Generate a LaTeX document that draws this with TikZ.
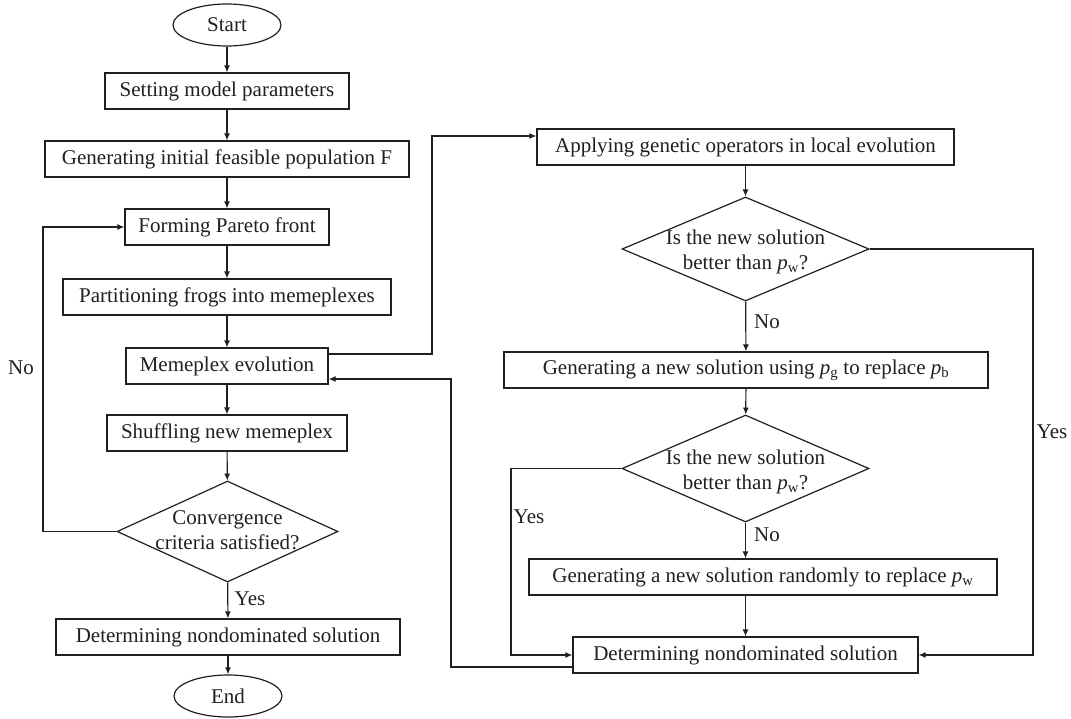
\documentclass[tikz,border=0pt]{standalone}
\usepackage{fontspec}
\setmainfont{Liberation Serif}
\usetikzlibrary{shapes.geometric,arrows.meta}
\definecolor{ink}{HTML}{231F20}
\begin{document}
\begin{tikzpicture}[x=1pt,y=-1pt,
  every node/.style={font=\fontsize{21}{25}\selectfont, text=ink},
  stepbox/.style={draw=ink, line width=1.2pt, rectangle, minimum height=36pt, inner sep=0pt},
  term/.style={draw=ink, line width=1.2pt, ellipse, minimum width=108pt, minimum height=42pt, inner sep=0pt},
  decision/.style={draw=ink, line width=1.2pt, diamond, inner sep=0pt},
  dtext/.style={align=center, inner sep=0pt},
  lbl/.style={inner sep=0pt},
  arr/.style={draw=ink, line width=1.2pt, -{Latex[length=7pt,width=6pt]}},
  ln/.style={draw=ink, line width=1.2pt}]
\useasboundingbox (0,0) rectangle (1071,718);
\fill[white] (0,0) rectangle (1071,718);
% left column
\node[term] (start) at (227,25) {Start};
\node[stepbox, minimum width=244pt] (set) at (227,91) {Setting model parameters};
\node[stepbox, minimum width=364pt] (gen) at (227,159) {Generating initial feasible population F};
\node[stepbox, minimum width=204pt] (form) at (227,227) {Forming Pareto front};
\node[stepbox, minimum width=328pt] (part) at (227,297) {Partitioning frogs into memeplexes};
\node[stepbox, minimum width=202pt] (mem) at (227,366) {Memeplex evolution};
\node[stepbox, minimum width=240pt] (shuf) at (227,433) {Shuffling new memeplex};
\node[decision, minimum width=221pt, minimum height=101pt] (conv) at (227.5,531.5) {};
\node[dtext] (convt) at (227.5,530) {Convergence\\criteria satisfied?};
\node[stepbox, minimum width=344pt] (det) at (228,637) {Determining nondominated solution};
\node[term] (end) at (228,696) {End};
% right column
\node[stepbox, minimum width=417pt] (app) at (745.5,147) {Applying genetic operators in local evolution};
\node[decision, minimum width=247pt, minimum height=104pt] (d1) at (745.5,249) {};
\node[dtext] (d1t) at (745.5,252) {Is the new solution\\better than \textit{p}\textsubscript{w}?};
\node[stepbox, minimum width=484pt] (pg) at (746,370) {Generating a new solution using \textit{p}\textsubscript{g} to replace \textit{p}\textsubscript{b}};
\node[decision, minimum width=247pt, minimum height=107pt] (d2) at (745.5,468.5) {};
\node[dtext] (d2t) at (745.5,472) {Is the new solution\\better than \textit{p}\textsubscript{w}?};
\node[stepbox, minimum width=468pt] (rnd) at (763,577) {Generating a new solution randomly to replace \textit{p}\textsubscript{w}};
\node[stepbox, minimum width=345pt] (det2) at (745.5,655) {Determining nondominated solution};
% labels
\node[lbl] (no1) at (21,368) {No};
\node[lbl] (yes1) at (250,599) {Yes};
\node[lbl] (no2) at (767,322) {No};
\node[lbl] (yes2) at (1052,432) {Yes};
\node[lbl] (yes3) at (529,517) {Yes};
\node[lbl] (no3) at (767,535) {No};
% coordinates
\coordinate (c1) at (43,531.5);
\coordinate (m1) at (432,354);
\coordinate (m2) at (432,136);
\coordinate (r1) at (1033,249);
\coordinate (l1) at (511,468.5);
\coordinate (b1) at (451,667);
\coordinate (b2) at (451,379);
% left connectors
\draw[arr] (start) -- (set);
\draw[arr] (set) -- (gen);
\draw[arr] (gen) -- (form);
\draw[arr] (form) -- (part);
\draw[arr] (part) -- (mem);
\draw[arr] (mem) -- (shuf);
\draw[arr] (shuf) -- (conv);
\draw[arr] (conv) -- (det);
\draw[arr] (det) -- (end);
\draw[arr] (conv.west) -- (c1) |- (form.west);
% to right column
\draw[arr] (mem.east |- m1) -- (m1) -- (m2) -- (app.west |- m2);
\draw[arr] (app) -- (d1);
\draw[arr] (d1) -- (pg);
\draw[arr] (d1.east) -- (r1) |- (det2.east);
\draw[arr] (pg) -- (d2);
\draw[arr] (d2.south) -- (d2.south |- rnd.north);
\draw[arr] (det2.north |- rnd.south) -- (det2.north);
\draw[arr] (d2.west) -- (l1) |- (det2.west);
\draw[arr] (det2.west |- b1) -- (b1) -- (b2) -- (mem.east |- b2);
\end{tikzpicture}
\end{document}
